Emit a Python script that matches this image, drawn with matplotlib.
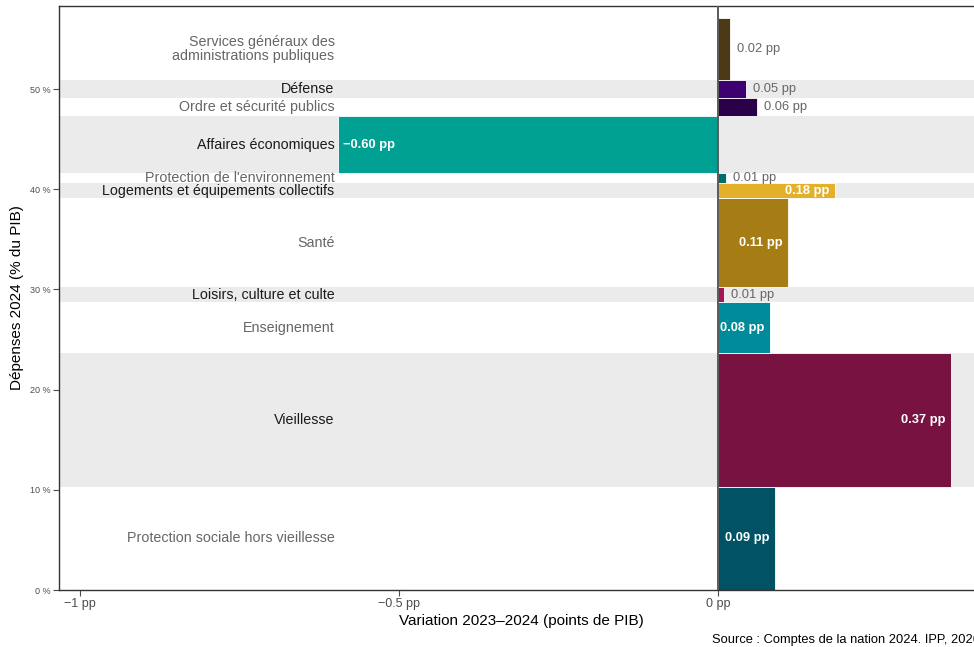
import numpy as np
import matplotlib.pyplot as plt

plt.rcParams['font.family'] = ['Liberation Sans', 'DejaVu Sans']

# categories from bottom to top
categories = ['Protection sociale hors vieillesse', 'Vieillesse', 'Enseignement',
              'Loisirs, culture et culte', 'Santé', 'Logements et équipements collectifs',
              "Protection de l'environnement", 'Affaires économiques',
              'Ordre et sécurité publics', 'Défense',
              'Services généraux des\nadministrations publiques']
# spending 2024, % of GDP (bar thickness)
shares = [10.3, 13.35, 5.1, 1.47, 8.88, 1.5, 1.07, 5.6, 1.83, 1.77, 6.26]
# variation 2023-2024, points of GDP (bar length)
variation = [0.09, 0.365, 0.081, 0.009, 0.11, 0.183, 0.012, -0.596, 0.061, 0.044, 0.019]
value_labels = ['0.09 pp', '0.37 pp', '0.08 pp', '0.01 pp', '0.11 pp', '0.18 pp',
                '0.01 pp', '\u22120.60 pp', '0.06 pp', '0.05 pp', '0.02 pp']
colors = ['#005264', '#781341', '#008B9A', '#A0185A', '#A67C14', '#E3B02A',
          '#006E6A', '#00A093', '#2A0048', '#3F0070', '#4B3A14']
shaded = [False, True, False, True, False, True, False, True, False, True, False]

bottoms = np.concatenate([[0], np.cumsum(shares)[:-1]])
centers = bottoms + np.array(shares) / 2

fig = plt.figure(figsize=(9.74, 6.47), dpi=100)
ax = fig.add_axes([59 / 974, 57 / 647, (984 - 59) / 974, 584 / 647])
ax.set_xlim(-1.033, 0.417)
ax.set_ylim(0, 58.3)

for b, h, s in zip(bottoms, shares, shaded):
    if s:
        ax.axhspan(b, b + h, color='#EBEBEB', lw=0, zorder=0)

ax.barh(bottoms, variation, height=shares, align='edge', color=colors,
        edgecolor='white', linewidth=0.6, zorder=2)
ax.axvline(0, color='#5A5A5A', lw=1.4, zorder=3)

for c, v, lab, s, name in zip(centers, variation, value_labels, shaded, categories):
    ax.annotate(name, (-0.6, c), xytext=(-0.5, 0), textcoords='offset points',
                ha='right', va='center', fontsize=10.3,
                color='#1A1A1A' if s else '#666666', linespacing=1.05, zorder=4)
    if abs(v) >= 0.08:
        off = -4 if v > 0 else 4
        ax.annotate(lab, (v, c), xytext=(off, 0), textcoords='offset points',
                    ha='right' if v > 0 else 'left', va='center', fontsize=9.3,
                    fontweight='bold', color='white', zorder=4)
    else:
        ax.annotate(lab, (v, c), xytext=(5, 0), textcoords='offset points',
                    ha='left', va='center', fontsize=9.3, color='#666666', zorder=4)

ax.set_xticks([-1, -0.5, 0])
ax.set_xticklabels(['\u22121 pp', '\u22120.5 pp', '0 pp'])
ax.set_yticks([0, 10, 20, 30, 40, 50])
ax.set_yticklabels(['0 %', '10 %', '20 %', '30 %', '40 %', '50 %'])
ax.tick_params(axis='x', labelsize=9, colors='#4D4D4D', length=4, pad=2)
ax.tick_params(axis='y', labelsize=6.5, colors='#4D4D4D', length=4, pad=2)
for sp in ax.spines.values():
    sp.set_color('#333333')
    sp.set_linewidth(1.0)

ax.set_xlabel('Variation 2023\u20132024 (points de PIB)', fontsize=11, color='black', labelpad=3)
ax.set_ylabel('Dépenses 2024 (% du PIB)', fontsize=11, color='black', labelpad=4)

fig.text(712 / 974, 1 - 640 / 647, 'Source : Comptes de la nation 2024. IPP, 2026',
         ha='left', va='center', fontsize=9.3, color='black')

fig.savefig('out.png', dpi=100)
